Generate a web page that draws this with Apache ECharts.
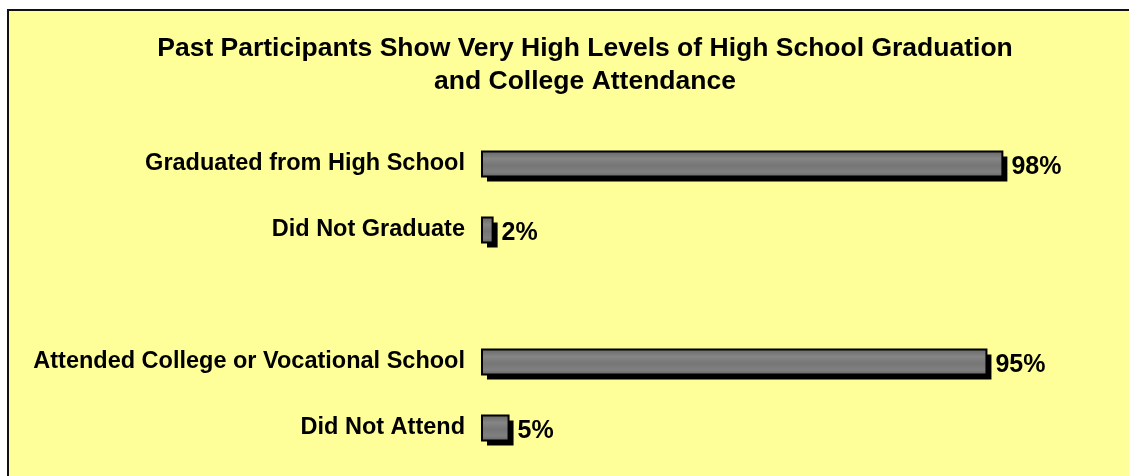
<!DOCTYPE html>
<html>
<head>
<meta charset="utf-8">
<script src="https://cdn.jsdelivr.net/npm/echarts@6/dist/echarts.min.js"></script>
<style>
html,body{margin:0;padding:0;background:#fff;}
#c{width:1129px;height:476px;}
</style>
</head>
<body>
<div id="c"></div>
<script>
var titleText = 'Past Participants Show Very High Levels of High School Graduation\nand College Attendance';
var categories = ['Graduated from High School', 'Did Not Graduate', '', 'Attended College or Vocational School', 'Did Not Attend'];
var values = [98, 2, null, 95, 5];

var chart = echarts.init(document.getElementById('c'), null, {renderer: 'canvas'});
var FONT = 'Liberation Sans, Arial, sans-serif';

function renderBar(params, api) {
  var v = api.value(1);
  if (v == null || isNaN(v)) return null;
  var cat = api.value(0);
  var start = api.coord([0, cat]);
  var end = api.coord([v, cat]);
  var h = 25, off = 5;
  var x0 = start[0], y0 = start[1] - h / 2, w = end[0] - start[0];
  var fill = new echarts.graphic.LinearGradient(0, 0, 0, 1, [
    {offset: 0, color: '#666666'},
    {offset: 0.3, color: '#858585'},
    {offset: 0.55, color: '#767676'},
    {offset: 0.8, color: '#808080'},
    {offset: 1, color: '#626262'}
  ]);
  return {
    type: 'group',
    children: [
      {type: 'rect', shape: {x: x0 + off, y: y0 + off, width: w, height: h}, style: {fill: '#000'}},
      {type: 'rect', shape: {x: x0, y: y0, width: w, height: h}, style: {fill: fill, stroke: '#000', lineWidth: 2}},
      {type: 'text', style: {
        text: v + '%', x: end[0] + off + 4, y: start[1] + 3,
        verticalAlign: 'middle', align: 'left',
        font: 'bold 25px ' + FONT, fill: '#000'
      }}
    ]
  };
}

chart.setOption({
  backgroundColor: '#ffffff',
  animation: false,
  graphic: [{
    type: 'rect', z: -10, silent: true,
    shape: {x: 8, y: 10, width: 1200, height: 500},
    style: {fill: '#FFFF99', stroke: '#111', lineWidth: 2}
  }],
  title: {
    text: titleText,
    left: 580, top: 27, textAlign: 'center',
    textStyle: {fontFamily: FONT, fontWeight: 'bold', fontSize: 26.5, lineHeight: 33, color: '#000'}
  },
  grid: {left: 482, right: 116, top: 131, bottom: 15, containLabel: false},
  xAxis: {type: 'value', min: 0, max: 100, show: false},
  yAxis: {
    type: 'category', data: categories, inverse: true,
    axisLine: {show: false}, axisTick: {show: false}, splitLine: {show: false},
    axisLabel: {margin: 17, color: '#000', fontFamily: FONT, fontWeight: 'bold', fontSize: 23.5, padding: [5, 0, 0, 0]}
  },
  series: [{
    type: 'custom',
    renderItem: renderBar,
    encode: {x: 1, y: 0},
    data: values.map(function (v, i) { return [i, v]; })
  }]
});
</script>
</body>
</html>
